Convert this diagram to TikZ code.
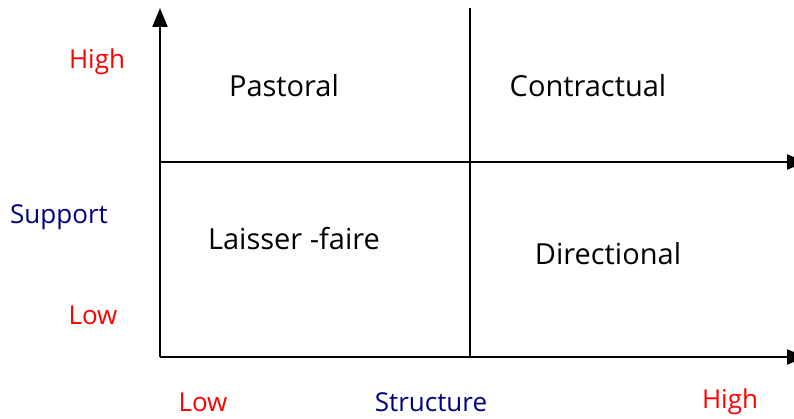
\documentclass[tikz,border=0pt]{standalone}
\usepackage{fontspec}
\setmainfont{Open Sans}
\usetikzlibrary{arrows.meta}
\definecolor{lvl}{RGB}{255,0,0}
\definecolor{axisname}{RGB}{0,0,128}
\begin{document}
\begin{tikzpicture}[x=1pt,y=-1pt,
    every node/.style={inner sep=0pt,font=\fontsize{29}{32}\selectfont},
    level/.style={text=lvl,font=\fontsize{26}{29}\selectfont},
    axlabel/.style={text=axisname,font=\fontsize{26}{29}\selectfont},
    axisline/.style={line width=2pt},
    tip/.style={-{Triangle[length=19pt,width=15pt]}}]
  \useasboundingbox (0,0) rectangle (794,419);
  \coordinate (o) at (160,357);
  \coordinate (ytop) at (160,8);
  \coordinate (mleft) at (160,162);
  \coordinate (mright) at (806,162);
  \coordinate (bright) at (806,357);
  \coordinate (ctop) at (470,8);
  \coordinate (cbot) at (470,357);
  \draw
    (284,86) node (pastoral){Pastoral}
    (588,86) node (contractual){Contractual}
    (294,239) node (laisser){Laisser -faire}
    (608,254) node (directional){Directional};
  \draw
    (97,62) node[level] (yhigh){High}
    (59,217) node[axlabel] (support){Support}
    (93,315) node[level] (ylow){Low}
    (203,402) node[level] (xlow){Low}
    (431,402) node[axlabel] (structure){Structure}
    (730,402) node[level] (xhigh){High};
  \begin{scope}[axisline]
    \draw[tip] (o) to (ytop);
    \draw[tip] (mleft) to (mright);
    \draw[tip] (o) to (bright);
    \draw (cbot) to (ctop);
  \end{scope}
\end{tikzpicture}
\end{document}
